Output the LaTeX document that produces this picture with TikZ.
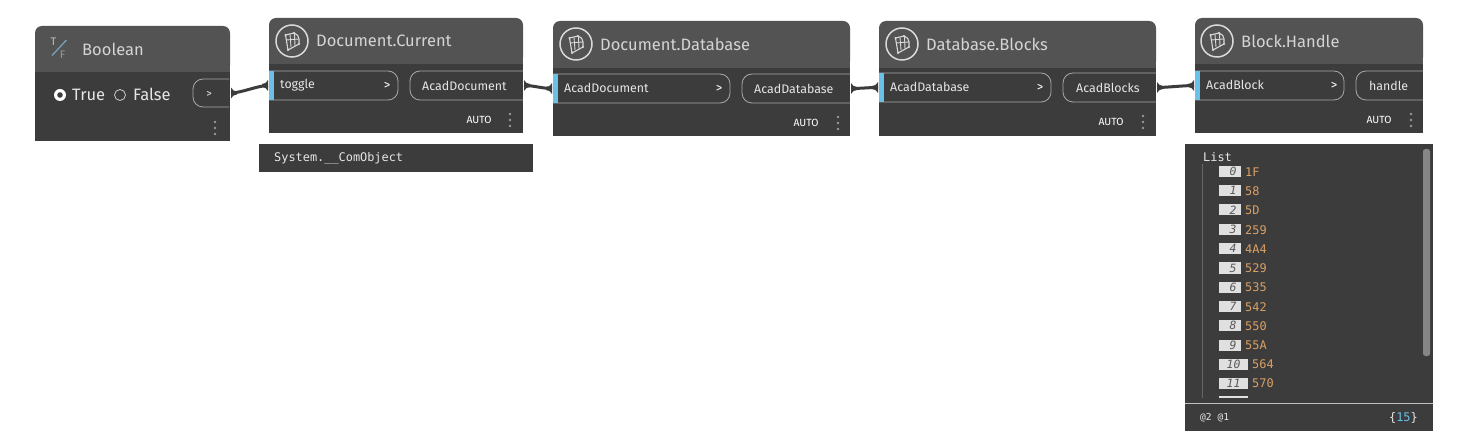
\documentclass[tikz,border=0pt]{standalone}
\usepackage{fontspec}
\setmainfont{Open Sans}
\newfontfamily\monof{DejaVu Sans Mono}
\newfontfamily\fira{Fira Sans}
\definecolor{bodyc}{HTML}{3C3C3C}
\definecolor{headc}{HTML}{535353}
\definecolor{portl}{HTML}{A8A8A8}
\definecolor{blue1}{HTML}{6AC0E7}
\definecolor{txt}{HTML}{E6E6E6}
\definecolor{orng}{HTML}{D9A066}
\definecolor{wire}{HTML}{3C3C3C}
\tikzset{
  x=1pt,y=-1pt,
  titletxt/.style={anchor=west,inner sep=0,text=txt!92!black,font=\fira\fontsize{16.5}{17}\selectfont},
  porttxt/.style={anchor=west,inner sep=0,text=txt,font=\fira\fontsize{12.4}{13}\selectfont},
  bigtxt/.style={anchor=west,inner sep=0,text=txt,font=\fira\fontsize{16.5}{17}\selectfont},
  gttxt/.style={inner sep=0,text=white,font=\fira\fontsize{13}{13}\selectfont},
  autotxt/.style={anchor=center,inner sep=0,text=white,font=\fira\fontsize{10.4}{11}\selectfont},
  monotxt/.style={anchor=west,inner sep=0,text=txt,font=\monof\fontsize{11.9}{12}\selectfont},
  valtxt/.style={anchor=west,inner sep=0,text=orng,font=\monof\fontsize{11.9}{12}\selectfont},
  idxtxt/.style={anchor=center,inner sep=0,text=black!65,font=\monof\itshape\fontsize{11.4}{12}\selectfont},
  portline/.style={draw=portl,line width=.8pt},
  wireline/.style={draw=wire,line width=3pt},
  dotc/.style={fill=wire,draw=none},
}
% #1 left #2 right #3 top #4 header bottom #5 bottom
\newcommand{\cardbg}[5]{%
  \fill[bodyc] (#1,#4) -- (#2,#4) -- (#2,#5) -- (#1,#5) -- cycle;
  \fill[headc,rounded corners=7pt] (#1,#4) -- (#1,#3) -- (#2,#3) -- (#2,#4) -- cycle;
  \fill[headc] (#1,#4-8) rectangle (#2,#4);
}
% #1 x centre #2 y centre
\newcommand{\blockicon}[2]{%
  \begin{scope}[shift={(#1,#2)}]
    \draw[white!85!black,line width=1.5pt] (0,0) circle (16);
    \draw[white!85!black,line width=1.1pt,line join=round] (-6.5,-6) -- (2,-8) .. controls (5,-7) and (7,-5) .. (7,-2) -- (7,3) -- (-4,9) -- cycle;
    \draw[white!85!black,line width=.9pt] (-2,-6.5) -- (-1,6) (2.5,-7.5) -- (3,5) (-5.5,-1) -- (6.5,-2);
    \fill[white!85!black] (-6.5,-6) circle (1.2) (2,-8) circle (1.2) (7,3) circle (1.2) (-4,9) circle (1.2);
  \end{scope}
}
% #1 x left #2 top #3 bottom #4 name of in-port coordinate (input port, blue strip); #5 x right
\newcommand{\inport}[5]{%
  \draw[portline,rounded corners=10pt] (#1,#2) -- (#5,#2) -- (#5,#3) -- (#1,#3);
  \fill[blue1] (#1,#2) rectangle (#1+5,#3);
  \coordinate (#4) at (#1,{(#2+#3)/2});
}
% #1 x left, #2 top, #3 bottom, #4 x right, #5 coordinate name
\newcommand{\outport}[5]{%
  \draw[portline,rounded corners=10pt] (#4,#2) -- (#1,#2) -- (#1,#3) -- (#4,#3);
  \coordinate (#5) at (#4,{(#2+#3)/2});
}
\newcommand{\menudots}[2]{%
  \fill[white!60!black] (#1,#2-6) circle (1.4) (#1,#2) circle (1.4) (#1,#2+6) circle (1.4);
}
\begin{document}
\begin{tikzpicture}
\useasboundingbox (0,0) rectangle (1458,446);
\fill[white] (0,0) rectangle (1458,446);

% Boolean
\cardbg{35}{230}{26}{72}{141}
\node[titletxt] (boolT) at (82,49) {Boolean};
\node[inner sep=0,text=white!75!black,font=\fira\fontsize{11}{11}\selectfont] (boolIT) at (53.5,42) {T};
\node[inner sep=0,text=white!60!black,font=\fira\fontsize{11}{11}\selectfont] (boolIF) at (62.5,55) {F};
\draw[blue1!55!gray,line width=1.3pt] (52,55.5) -- (66.5,40);
\fill[white] (60,95) circle (6);
\fill[bodyc] (60,95) circle (2.8);
\node[bigtxt] (boolTrue) at (72,94.5) {True};
\draw[white!80!black,line width=.8pt] (120,95) circle (5.5);
\node[bigtxt] (boolFalse) at (133,94.5) {False};
\outport{193}{79}{107}{229}{pbx}
\coordinate (pb) at (230,93);
\node[inner sep=0,text=txt,font=\fira\fontsize{11}{11}\selectfont] (boolGt) at (209,94) {>};
\menudots{215}{128}

% Document.Current
\cardbg{269}{523}{18}{64}{133}
\blockicon{292}{41}
\node[titletxt] (t1) at (316,41) {Document.Current};
\inport{269}{71}{100}{i1}{398}
\node[porttxt] (i1t) at (280,85) {toggle};
\node[gttxt] (i1g) at (387,86) {>};
\outport{410}{71}{100}{523}{o1}
\node[porttxt] (o1t) at (422,86) {AcadDocument};
\node[autotxt] (a1) at (479,120) {AUTO};
\menudots{510}{120}

% Document.Database
\cardbg{553}{850}{21}{68}{136}
\blockicon{576}{44}
\node[titletxt] (t2) at (600,44) {Document.Database};
\inport{553}{74}{103}{i2}{730}
\node[porttxt] (i2t) at (564,88) {AcadDocument};
\node[gttxt] (i2g) at (719,89) {>};
\outport{742}{74}{103}{850}{o2}
\node[porttxt] (o2t) at (754,89) {AcadDatabase};
\node[autotxt] (a2) at (806,123) {AUTO};
\menudots{838}{123}

% Database.Blocks
\cardbg{879}{1156}{21}{68}{136}
\blockicon{902}{44}
\node[titletxt] (t3) at (926,44) {Database.Blocks};
\inport{879}{73}{102}{i3}{1051}
\node[porttxt] (i3t) at (890,87) {AcadDatabase};
\node[gttxt] (i3g) at (1040,88) {>};
\outport{1063}{73}{102}{1156}{o3}
\node[porttxt] (o3t) at (1076,88) {AcadBlocks};
\node[autotxt] (a3) at (1111,122) {AUTO};
\menudots{1143}{122}

% Block.Handle
\cardbg{1195}{1423}{18}{64}{133}
\blockicon{1217}{41}
\node[titletxt] (t4) at (1241,41) {Block.Handle};
\inport{1195}{71}{100}{i4}{1344}
\node[porttxt] (i4t) at (1206,85) {AcadBlock};
\node[gttxt] (i4g) at (1334,86) {>};
\outport{1356}{71}{100}{1423}{o4}
\node[porttxt] (o4t) at (1369,86) {handle};
\node[autotxt] (a4) at (1379,120) {AUTO};
\menudots{1411}{120}

% Connectors
\foreach \a/\b in {pb/i1,o1/i2,o2/i3,o3/i4}{
  \coordinate (wa) at ([xshift=1pt]\a);
  \coordinate (wb) at ([xshift=-1pt]\b);
  \draw[wireline] (wa) .. controls +(10,0) and +(-10,0) .. (wb);
  \fill[dotc,shift={(wa)}] (0,-5.5) .. controls (1.5,-3) and (3,-1.5) .. (6,-1.5) -- (6,1.5) .. controls (3,1.5) and (1.5,3) .. (0,5.5) -- cycle;
  \fill[dotc,shift={(wb)}] (0,-5.5) .. controls (-1.5,-3) and (-3,-1.5) .. (-6,-1.5) -- (-6,1.5) .. controls (-3,1.5) and (-1.5,3) .. (0,5.5) -- cycle;
}

% Watch panel 1
\fill[bodyc] (259,144) rectangle (533,172);
\node[monotxt] (w1) at (274,158) {System.\_\_ComObject};

% Watch panel 2
\fill[bodyc] (1185,144) rectangle (1433,431);
\node[monotxt] (w2) at (1203,157.5) {List};
\draw[white!40!black,line width=.7pt] (1202.5,164) -- (1202.5,398);
\fill[gray!95!white,rounded corners=2.5pt] (1423,149) rectangle (1430,356);
\foreach \i/\v/\y in {0/1F/171.5,1/58/190.8,2/5D/210,3/259/229.5,4/4A4/248.8,5/529/268,6/535/287,7/542/306.5,8/550/325.8,9/55A/345}{
  \fill[white!88!black] (1219,\y-5.5) rectangle (1241,\y+5.5);
  \node[idxtxt] (ix\i) at (1233,\y) {\i};
  \node[valtxt] (val\i) at (1245,\y+.5) {\v};
}
\foreach \i/\v/\y in {10/564/364,11/570/383}{
  \fill[white!88!black] (1219,\y-5.5) rectangle (1248,\y+5.5);
  \node[idxtxt] (ix\i) at (1233.5,\y) {\i};
  \node[valtxt] (val\i) at (1252,\y+.5) {\v};
}
\fill[white!88!black] (1219,396) rectangle (1248,398);
\draw[white!75!black,line width=.8pt] (1185,403.5) -- (1433,403.5);
\node[monotxt,font=\monof\fontsize{9.6}{10}\selectfont] (lv) at (1200,418) {@2 @1};
\node[monotxt,anchor=east] (cnt) at (1418,418) {\{\textcolor{blue1}{15}\}};
\end{tikzpicture}
\end{document}
